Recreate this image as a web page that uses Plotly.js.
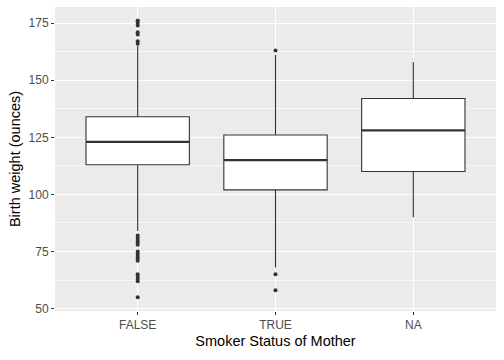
<!DOCTYPE html>
<html>
<head>
<meta charset="utf-8">
<script src="https://cdn.plot.ly/plotly-3.0.1.min.js"></script>
<style>html,body{margin:0;padding:0;background:#fff;}#chart{width:504px;height:360px;}</style>
</head>
<body>
<div id="chart"></div>
<script>
// Data
const categories = ["FALSE", "TRUE", "NA"];
const q1 = [113, 102, 110];
const median = [123, 115, 128];
const q3 = [134, 126, 142];
const lowerWhisker = [84, 68, 90];
const upperWhisker = [165, 161, 158];
const outliersFalse = [166, 167, 170, 171, 174, 175, 176, 176, 82, 81, 80, 79, 78, 75, 74, 73, 72, 71, 65, 64, 63, 62, 55];
const outliersTrue = [163, 65, 58];
const outliersNA = [];

const pos = categories.map((c, i) => i);
const boxW = 0.75;
const ink = '#333333';

const traces = [];
traces.push({
  type: 'box',
  x: pos,
  q1: q1, median: median, q3: q3,
  lowerfence: lowerWhisker, upperfence: upperWhisker,
  width: boxW,
  whiskerwidth: 0,
  fillcolor: '#FFFFFF',
  line: {color: ink, width: 1.1},
  boxpoints: false,
  hoverinfo: 'skip',
  showlegend: false
});
// thicker median lines (ggplot fatten)
median.forEach((m, i) => {
  traces.push({
    type: 'scatter', mode: 'lines',
    x: [pos[i] - boxW / 2, pos[i] + boxW / 2], y: [m, m],
    line: {color: ink, width: 2.2},
    hoverinfo: 'skip', showlegend: false
  });
});
const outl = [outliersFalse, outliersTrue, outliersNA];
outl.forEach((arr, i) => {
  if (!arr.length) return;
  traces.push({
    type: 'scatter', mode: 'markers',
    x: arr.map(() => pos[i]), y: arr,
    marker: {color: ink, size: 4},
    hoverinfo: 'skip', showlegend: false
  });
});

const font = 'Liberation Sans, Arial, sans-serif';
const layout = {
  width: 504, height: 360, autosize: false,
  margin: {l: 55, r: 8, t: 7, b: 49, pad: 0},
  paper_bgcolor: '#FFFFFF',
  plot_bgcolor: '#EBEBEB',
  font: {family: font},
  showlegend: false,
  xaxis: {
    range: [-0.6, 2.6],
    tickmode: 'array', tickvals: pos, ticktext: categories,
    showgrid: true, gridcolor: '#FFFFFF', gridwidth: 1.2,
    zeroline: false, showline: false,
    ticks: 'outside', ticklen: 3, tickwidth: 1.1, tickcolor: ink,
    tickfont: {size: 12, color: '#4D4D4D', family: font},
    title: {text: 'Smoker Status of Mother', font: {size: 14.5, color: '#000000', family: font}, standoff: 4}
  },
  yaxis: {
    range: [48.95, 182.05],
    tickmode: 'linear', tick0: 50, dtick: 25,
    showgrid: true, gridcolor: '#FFFFFF', gridwidth: 1.2,
    minor: {dtick: 12.5, tick0: 50, showgrid: true, gridcolor: '#FFFFFF', gridwidth: 0.6, ticks: ''},
    zeroline: false, showline: false,
    ticks: 'outside', ticklen: 3, tickwidth: 1.1, tickcolor: ink,
    tickfont: {size: 12, color: '#4D4D4D', family: font},
    title: {text: 'Birth weight (ounces)', font: {size: 14.5, color: '#000000', family: font}, standoff: 4}
  }
};

Plotly.newPlot('chart', traces, layout, {displayModeBar: false, staticPlot: true});
</script>
</body>
</html>
